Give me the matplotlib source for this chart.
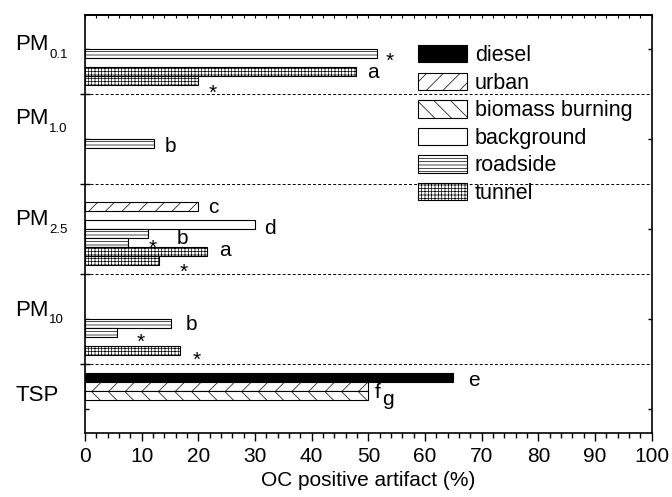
import numpy as np
import matplotlib.pyplot as plt
import matplotlib.patches as mpatches
import matplotlib.transforms as mtransforms
from matplotlib.ticker import MultipleLocator

plt.rcParams['font.family'] = ['Liberation Sans', 'DejaVu Sans']
plt.rcParams['hatch.linewidth'] = 0.5

# size fractions (label + subscript)
groups = ['PM', 'PM', 'PM', 'PM', 'TSP']
group_sub = ['0.1', '1.0', '2.5', '10', '']
sources = ['diesel', 'urban', 'biomass burning', 'background', 'roadside', 'tunnel']

# one entry per bar
bar_group = [0, 0, 0, 1, 2, 2, 2, 2, 2, 2, 3, 3, 3, 4, 4, 4]
bar_source = ['roadside', 'tunnel', 'tunnel',
              'roadside',
              'urban', 'background', 'roadside', 'roadside', 'tunnel', 'tunnel',
              'roadside', 'roadside', 'tunnel',
              'diesel', 'urban', 'biomass burning']
bar_study = [0, 0, 1, 0, 0, 0, 0, 1, 0, 1, 0, 1, 1, 0, 0, 0]
bar_value = [51.6, 47.9, 20.0, 12.2, 20.0, 30.0, 11.2, 7.5, 21.6, 13.1,
             15.2, 5.6, 16.8, 65.0, 50.0, 50.0]
bar_note = ['*', 'a', '*', 'b', 'c', 'd', 'b', '*', 'a', '*', 'b', '*', '*', 'e', 'f', 'g']

# layout
slot0 = {'diesel': 1, 'urban': 2, 'biomass burning': 3, 'background': 4,
         'roadside': 5, 'tunnel': 7}
style = {
    'diesel': dict(facecolor='black', hatch=None),
    'urban': dict(facecolor='white', hatch='//'),
    'biomass burning': dict(facecolor='white', hatch='\\\\'),
    'background': dict(facecolor='white', hatch=None),
    'roadside': dict(facecolor='white', hatch='-----'),
    'tunnel': dict(facecolor='white', hatch='+++++'),
}
# note offsets from bar end / bar centre, in pixels (dx right, dy down)
note_off = [(8.3, 13.1), (10.3, 6.5), (10.7, 18), (11, 8.6), (10, 6), (9.3, 9.7),
            (28.7, 9.9), (21, 10.6), (11.3, 4.3), (20, 16.6), (14.7, 6.2), (20.3, 15.2),
            (12.7, 14.7), (15, 8.1), (6, 11.7), (14, 9.3)]
label_y = [5.1, 13.3, 24.5, 34.6, 44.1]

fig = plt.figure(figsize=(6.72, 4.97), dpi=100)
ax = fig.add_axes([0.1265, 0.1294, 0.8433, 0.8404])
ax.set_axisbelow(True)

px = 72 / fig.dpi
for i in range(len(bar_value)):
    src = bar_source[i]
    yc = bar_group[i] * 10 + slot0[src] + bar_study[i] + 0.5
    ax.barh(yc, bar_value[i], height=1.0, edgecolor='black', linewidth=0.8,
            **style[src])
    dx, dy = note_off[i]
    ax.annotate(bar_note[i], xy=(bar_value[i], yc), xytext=(dx * px, -dy * px),
                textcoords='offset points', ha='left', va='baseline', fontsize=15)

for s in [10, 20, 30, 40]:
    ax.axhline(s, color='black', lw=0.7, linestyle=(0, (3, 2.2)))

ax.set_xlim(0, 100)
ax.set_ylim(47.6, 1.19)

ax.xaxis.set_major_locator(MultipleLocator(10))
ax.xaxis.set_minor_locator(MultipleLocator(2))
ax.tick_params(axis='x', which='major', direction='out', length=6, width=1,
               labelsize=15, pad=4)
ax.tick_params(axis='x', which='minor', direction='out', length=3.3, width=1)

ax.set_yticks([10, 20, 30, 40])
ax.set_yticks([5, 15, 25, 35, 45], minor=True)
ax.set_yticklabels([])
ax.tick_params(axis='y', which='major', direction='inout', length=7, width=1,
               left=True, right=False)
ax.tick_params(axis='y', which='minor', direction='in', length=3, width=1,
               left=True, right=True)

top = ax.secondary_xaxis('top')
top.xaxis.set_major_locator(MultipleLocator(10))
top.xaxis.set_minor_locator(MultipleLocator(2))
top.tick_params(which='both', direction='in', length=2.5, width=0.8, labeltop=False)
top.spines['top'].set_linewidth(1.2)

for sp in ax.spines.values():
    sp.set_linewidth(1.2)

ax.set_xlabel('OC positive artifact (%)', fontsize=15, labelpad=4)

trans = mtransforms.blended_transform_factory(ax.transAxes, ax.transData)
for i, name in enumerate(groups):
    t = ax.text(-0.1235, label_y[i], name, transform=trans, ha='left',
                va='baseline', fontsize=16)
    if group_sub[i]:
        ax.annotate(group_sub[i], xy=(1, 0), xycoords=t, xytext=(0.5, -2.0),
                    textcoords='offset points', ha='left', va='baseline', fontsize=9.5)

handles = [mpatches.Patch(edgecolor='black', linewidth=0.8, label=s, **style[s])
           for s in sources]
ax.legend(handles=handles, loc='upper left', bbox_to_anchor=(0.587, 0.928),
          frameon=False, fontsize=15.5, handlelength=2.3, handleheight=0.86,
          handletextpad=0.35, labelspacing=0.3, borderpad=0, borderaxespad=0)

fig.savefig('out.png', dpi=100)
